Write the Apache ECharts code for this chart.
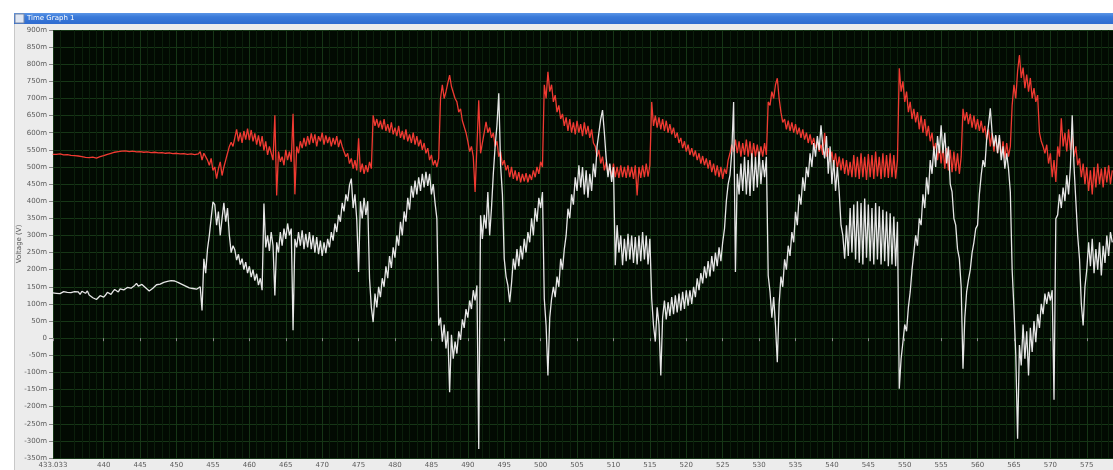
<!DOCTYPE html>
<html>
<head>
<meta charset="utf-8">
<script src="https://cdn.jsdelivr.net/npm/echarts@6/dist/echarts.min.js"></script>
<style>
html,body{margin:0;padding:0;background:#ffffff;}
#c{width:1113px;height:470px;}
</style>
</head>
<body>
<div id="c"></div>
<script>
// ---- data (sample start time, step, values in mV) ----
const T0 = 433.0;
const STEP = 0.25;
const xMin = 433.033;
const xMax = 578.6;
const xTickValues = [433.033, 440, 445, 450, 455, 460, 465, 470, 475, 480, 485, 490, 495, 500, 505, 510, 515, 520, 525, 530, 535, 540, 545, 550, 555, 560, 565, 570, 575];
const yMin = -350;
const yMax = 900;
const yStep = 50;

// one row = 5 time units (20 samples)
const redMv = [
  537,536,537,536,538,536,535,536,536,535,534,535,533,533,532,531,530,529,528,528,
  527,528,529,527,526,528,530,531,533,535,537,538,540,541,543,544,545,545,546,546,
  547,546,545,546,546,545,544,545,545,544,543,544,544,543,542,543,543,542,541,542,
  542,541,540,541,541,540,539,540,540,539,538,539,539,538,537,538,538,537,536,537,
  538,545,520,540,545,520,505,525,490,500,466,495,515,475,500,520,540,560,572,560,
  585,610,575,600,570,605,580,612,578,608,575,598,565,592,560,590,548,575,535,560,
  540,520,651,417,545,515,530,505,550,520,545,515,655,420,560,540,575,555,585,560,
  590,565,598,570,595,560,590,575,600,565,592,570,588,560,585,565,590,558,580,560,
  555,530,540,510,525,495,520,490,584,485,510,480,505,485,515,495,651,620,640,615,
  635,610,640,605,625,600,630,595,615,590,620,585,605,580,610,575,595,570,600,565,
  590,560,580,550,570,540,555,520,535,505,520,500,525,700,740,700,720,745,768,735,
  730,700,690,660,670,635,640,600,575,545,560,530,427,560,695,540,570,600,632,600,
  615,585,600,560,575,530,545,505,520,490,505,470,500,465,490,460,485,455,480,458,
  482,455,478,462,490,470,500,480,515,500,740,700,778,720,740,690,710,660,680,640,
  655,620,645,605,640,600,630,595,635,600,625,590,630,595,620,585,610,570,560,530,
  550,510,530,490,515,480,505,470,510,470,500,468,505,470,500,468,505,470,500,465,
  505,417,500,468,505,470,510,472,505,690,620,650,615,645,610,640,605,635,600,625,
  595,615,585,600,570,585,555,575,545,565,535,555,530,548,520,540,510,532,505,525,
  495,520,485,510,475,505,470,500,465,495,480,520,540,565,545,580,540,575,530,570,
  535,580,530,575,525,570,530,565,525,560,530,570,535,690,680,720,700,740,759,700,
  660,630,640,610,635,605,630,600,625,595,615,585,610,580,600,570,595,565,585,555,
  575,545,565,535,600,530,555,515,545,505,540,495,530,490,525,480,520,475,515,470,
  535,470,530,465,540,470,530,462,538,470,535,465,545,472,530,465,540,470,535,468,
  540,470,535,466,520,788,720,750,690,720,660,690,640,670,630,660,610,650,600,640,
  590,620,575,600,545,570,520,565,510,560,495,555,490,550,485,545,488,540,480,530,
  670,635,660,625,655,615,650,610,640,605,635,600,620,580,610,560,600,545,590,540,
  585,530,575,525,570,530,560,680,740,700,780,827,760,790,730,770,720,760,700,730,
  690,710,600,575,560,540,565,510,540,470,520,456,560,530,642,560,600,545,610,550,
  590,530,560,505,525,470,510,450,500,430,490,420,500,440,510,450,495,440,500,455,505,450,490
];

const whiteMv = [
  132,137,131,136,130,134,136,132,134,138,133,130,136,141,135,128,137,140,131,138,
  126,121,118,115,113,116,124,119,120,126,134,129,128,136,142,137,135,144,148,141,
  140,148,152,146,145,154,160,152,150,157,155,147,142,138,140,146,150,156,155,158,
  158,163,162,166,165,168,170,167,166,162,160,157,155,152,150,147,148,145,145,143,
  142,150,81,232,190,260,300,350,398,390,330,370,300,350,395,340,380,300,250,270,
  258,228,245,215,232,200,222,190,210,178,200,168,188,155,175,140,393,265,300,255,
  310,270,125,280,250,310,270,320,290,335,300,320,23,290,265,310,270,315,260,305,
  265,310,260,300,250,295,245,285,240,280,248,290,265,310,285,335,310,360,340,395,
  370,420,400,447,466,380,420,345,193,400,350,410,360,400,174,90,47,130,90,150,
  120,175,150,210,175,240,205,265,235,300,270,340,300,370,340,410,375,445,410,460,
  420,470,430,480,440,486,445,480,420,450,395,349,37,60,-10,40,-30,20,-158,10,
  -60,-10,-45,20,-5,55,30,85,60,110,85,140,110,154,-324,359,290,360,320,427,
  300,380,480,560,622,715,505,420,232,180,154,105,160,232,200,260,210,270,230,290,
  250,310,280,350,300,380,340,410,380,427,115,37,-109,60,115,150,120,180,150,232,
  200,260,300,378,350,420,390,470,430,505,440,500,420,490,410,480,430,510,470,560,
  600,640,666,600,525,470,510,456,500,213,330,250,300,213,290,225,305,230,300,220,
  295,215,300,225,310,230,300,215,290,115,37,-10,90,40,-109,60,110,55,105,65,
  120,70,125,75,130,80,135,85,140,95,140,100,150,120,175,140,190,160,210,175,
  225,180,240,195,250,210,265,225,280,320,400,450,476,544,690,193,480,420,510,430,
  530,420,520,415,540,430,530,440,545,450,520,470,530,183,135,60,120,37,-70,100,
  180,150,230,200,270,240,310,280,369,330,420,390,470,430,500,470,540,500,570,530,
  590,550,622,560,525,590,480,560,450,520,430,500,427,330,300,232,330,240,380,250,
  390,230,400,220,395,215,408,235,390,225,380,215,395,230,385,215,375,225,370,210,
  365,215,355,210,340,-148,-60,-12,40,20,90,135,200,250,300,270,350,330,420,380,
  470,420,520,480,560,500,590,540,622,540,600,510,560,450,427,350,330,260,232,150,
  -89,60,135,170,200,250,280,320,330,420,476,520,500,580,622,671,600,560,593,540,
  593,520,560,495,540,495,427,200,86,-50,-294,-20,-80,40,-60,20,-109,30,-40,50,
  -12,70,30,100,70,130,100,135,110,140,-180,349,360,420,380,440,400,476,420,500,
  651,500,400,300,232,100,37,150,200,280,210,290,190,260,200,280,183,270,220,300,240,310,280
];

// ---- build ----
const redData = redMv.map((v, i) => [T0 + i * STEP, v]);
const whiteData = whiteMv.map((v, i) => [T0 + i * STEP, v]);
const minorX = [];
for (let t = 434; t <= 578; t++) { if (t % 5 !== 0) minorX.push(t); }

const chart = echarts.init(document.getElementById('c'), null, {renderer: 'canvas'});
const labelFont = 'Tahoma, "DejaVu Sans", sans-serif';

chart.setOption({
  animation: false,
  backgroundColor: '#ececec',
  graphic: [
    {type: 'rect', shape: {x: 0, y: 0, width: 1113, height: 13}, style: {fill: '#ffffff'}, silent: true},
    {type: 'rect', shape: {x: 0, y: 0, width: 14, height: 470}, style: {fill: '#ffffff'}, silent: true},
    {type: 'rect', shape: {x: 14, y: 24, width: 1, height: 446}, style: {fill: '#c8c8c8'}, silent: true},
    {type: 'rect', shape: {x: 14, y: 13, width: 1099, height: 11},
      style: {fill: new echarts.graphic.LinearGradient(0, 0, 0, 1, [
        {offset: 0, color: '#5b95e6'}, {offset: 0.35, color: '#3a7ad9'}, {offset: 1, color: '#2e6bd0'}])}, silent: true},
    {type: 'rect', shape: {x: 15, y: 14, width: 9, height: 9}, style: {fill: '#dfe6f2', stroke: '#7a8aa8', lineWidth: 1}, silent: true},
    {type: 'text', x: 27, y: 18.5, style: {text: 'Time Graph 1', fill: '#ffffff', fontSize: 7, fontFamily: labelFont, verticalAlign: 'middle'}, silent: true}
  ],
  grid: {
    left: 53, top: 30, right: 0, bottom: 12,
    show: true, backgroundColor: '#020a02', borderWidth: 0,
    outerBoundsMode: 'none', containLabel: false
  },
  xAxis: [
    {
      type: 'value', min: xMin, max: xMax,
      axisLine: {show: false},
      axisTick: {show: true, length: 3, customValues: xTickValues, lineStyle: {color: '#8a8a8a'}},
      axisLabel: {customValues: xTickValues, fontSize: 7, color: '#5a5a5a', margin: 4, fontFamily: labelFont, hideOverlap: false},
      splitLine: {show: true, lineStyle: {color: '#163616', width: 1}}
    },
    {
      type: 'value', min: xMin, max: xMax, gridIndex: 0, position: 'bottom',
      axisLine: {show: false},
      axisTick: {show: false, customValues: minorX},
      axisLabel: {show: false},
      splitLine: {show: true, lineStyle: {color: '#0b1f0b', width: 1}}
    }
  ],
  yAxis: {
    type: 'value', min: yMin, max: yMax, interval: yStep,
    name: 'Voltage (V)', nameLocation: 'middle', nameGap: 30, nameMoveOverlap: false,
    nameTextStyle: {fontSize: 7, color: '#555', fontFamily: labelFont},
    axisLine: {show: false},
    axisTick: {show: true, length: 4, lineStyle: {color: '#8a8a8a'}},
    axisLabel: {fontSize: 7, color: '#5a5a5a', margin: 6, fontFamily: labelFont,
      formatter: v => (v === 0 ? '0' : v + 'm')},
    splitLine: {show: true, lineStyle: {color: '#163616', width: 1}}
  },
  series: [
    {type: 'line', name: 'Red', data: redData, showSymbol: false, symbol: 'none',
      lineStyle: {color: '#f03a32', width: 1.3}, itemStyle: {color: '#f03a32'}, z: 3, clip: true},
    {type: 'line', name: 'White', data: whiteData, showSymbol: false, symbol: 'none',
      lineStyle: {color: '#e6e6e6', width: 1.3}, itemStyle: {color: '#e6e6e6'}, z: 4, clip: true}
  ]
});
</script>
</body>
</html>
